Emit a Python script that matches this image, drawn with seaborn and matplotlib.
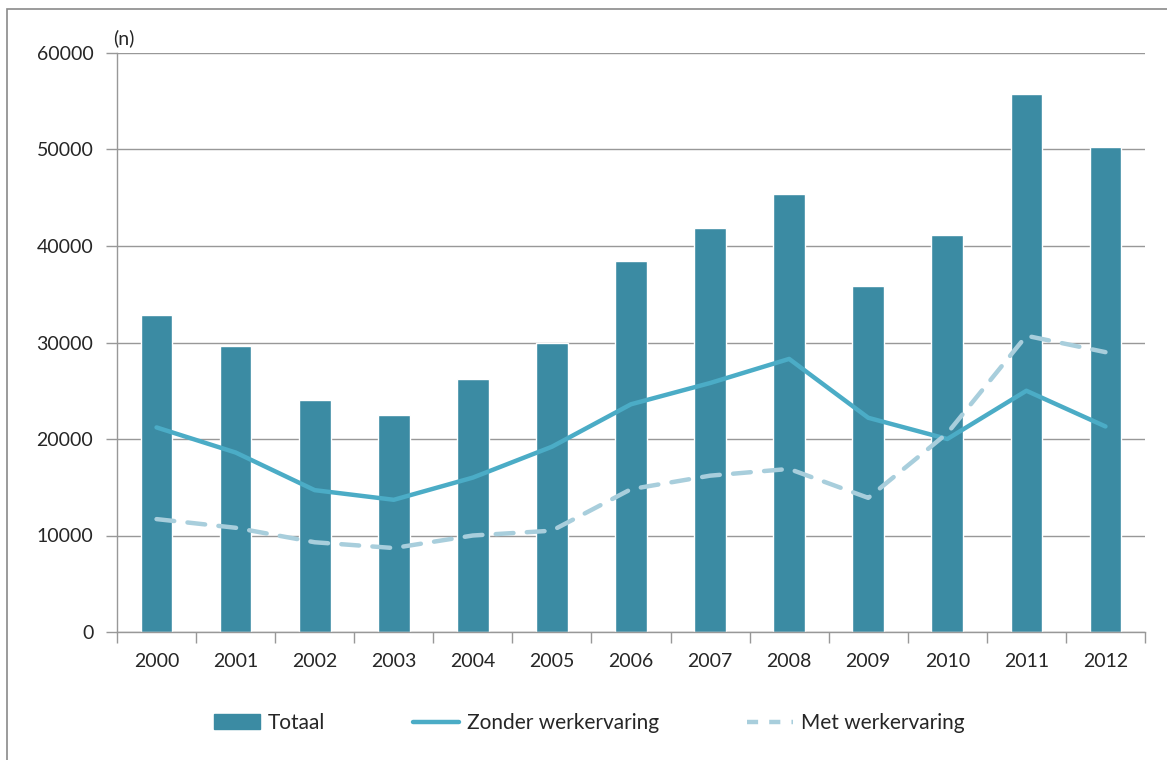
import numpy as np
import pandas as pd
import matplotlib
matplotlib.use("Agg")
import matplotlib.pyplot as plt
import seaborn as sns
from matplotlib.patches import Rectangle
from matplotlib.lines import Line2D
from matplotlib.patches import Patch

years = ["2000", "2001", "2002", "2003", "2004", "2005", "2006",
         "2007", "2008", "2009", "2010", "2011", "2012"]
totaal = [32900, 29600, 24000, 22500, 26200, 30000, 38400,
          41900, 45400, 35900, 41100, 55800, 50300]
zonder = [21200, 18600, 14700, 13700, 16000, 19200, 23600,
          25800, 28300, 22200, 20000, 25000, 21300]
met = [11700, 10800, 9300, 8700, 10000, 10500, 14800,
       16200, 16900, 13900, 20600, 30700, 29000]
yticks = [0, 10000, 20000, 30000, 40000, 50000, 60000]

bar_color = "#3B8BA3"
solid_color = "#4BACC6"
dash_color = "#A8CEDC"
grid_color = "#989898"
text_color = "#262626"

sns.set_theme(style="white")
plt.rcParams["font.family"] = ["Lato", "DejaVu Sans"]

fig = plt.figure(figsize=(11.67, 7.6), dpi=100)
ax = fig.add_axes([117 / 1167, 1 - 632 / 760, (1145 - 117) / 1167, (632 - 53) / 760])

df = pd.DataFrame({"year": years, "totaal": totaal, "zonder": zonder, "met": met})
df["pos"] = np.arange(len(years))

sns.barplot(data=df, x="year", y="totaal", color=bar_color, width=0.4,
            saturation=1, ax=ax, zorder=2)
sns.lineplot(data=df, x="pos", y="zonder", color=solid_color, linewidth=3.2,
             ax=ax, zorder=3)
sns.lineplot(data=df, x="pos", y="met", color=dash_color, linewidth=3.2,
             ax=ax, zorder=3)
ax.lines[-1].set_dashes([4, 3])
for ln in ax.lines:
    ln.set_solid_capstyle("round")
    ln.set_dash_capstyle("round")

ax.set_xlim(-0.5, len(years) - 0.5)
ax.set_ylim(0, 60000)
ax.set_yticks(yticks)
ax.set_yticklabels([str(v) for v in yticks])
ax.yaxis.grid(True, color=grid_color, linewidth=1)
ax.set_axisbelow(True)
ax.set_xlabel("")
ax.set_ylabel("")

for side in ["top", "right"]:
    ax.spines[side].set_visible(False)
for side in ["left", "bottom"]:
    ax.spines[side].set_color(grid_color)
    ax.spines[side].set_linewidth(1)

ax.set_xticks(np.arange(len(years)))
ax.set_xticklabels(years)
ax.set_xticks(np.arange(len(years) + 1) - 0.5, minor=True)
ax.tick_params(axis="x", which="major", length=0, pad=15, labelsize=14, colors=text_color)
ax.tick_params(axis="x", which="minor", length=8, width=1, color=grid_color, direction="out")
ax.tick_params(axis="y", which="major", length=8, width=1, color=grid_color, direction="out",
               pad=9, labelsize=14, labelcolor=text_color)
ax.tick_params(axis="y", left=True)
ax.tick_params(axis="x", bottom=True, which="both")

ax.text(-0.004, 1.01, "(n)", transform=ax.transAxes, fontsize=14,
        color=text_color, ha="left", va="bottom")

handles = [
    Patch(facecolor=bar_color, edgecolor=bar_color),
    Line2D([0], [0], color=solid_color, linewidth=3.2),
    Line2D([0], [0], color=dash_color, linewidth=3.2, dashes=[2.5, 2.5]),
]
labels = ["Totaal", "Zonder werkervaring", "Met werkervaring"]
fig.legend(handles, labels, loc="center", bbox_to_anchor=(0.505, 1 - 723 / 760),
           ncol=3, frameon=False, fontsize=15, handlelength=2.2,
           handletextpad=0.4, columnspacing=4.2, labelcolor=text_color)

fig.patches.append(Rectangle((7 / 1167, -0.05), 1.2, 1.05 - 9 / 760,
                             transform=fig.transFigure, fill=False,
                             edgecolor="#8a8a8a", linewidth=1.2))

fig.savefig("out.png", dpi=100, facecolor="white")
